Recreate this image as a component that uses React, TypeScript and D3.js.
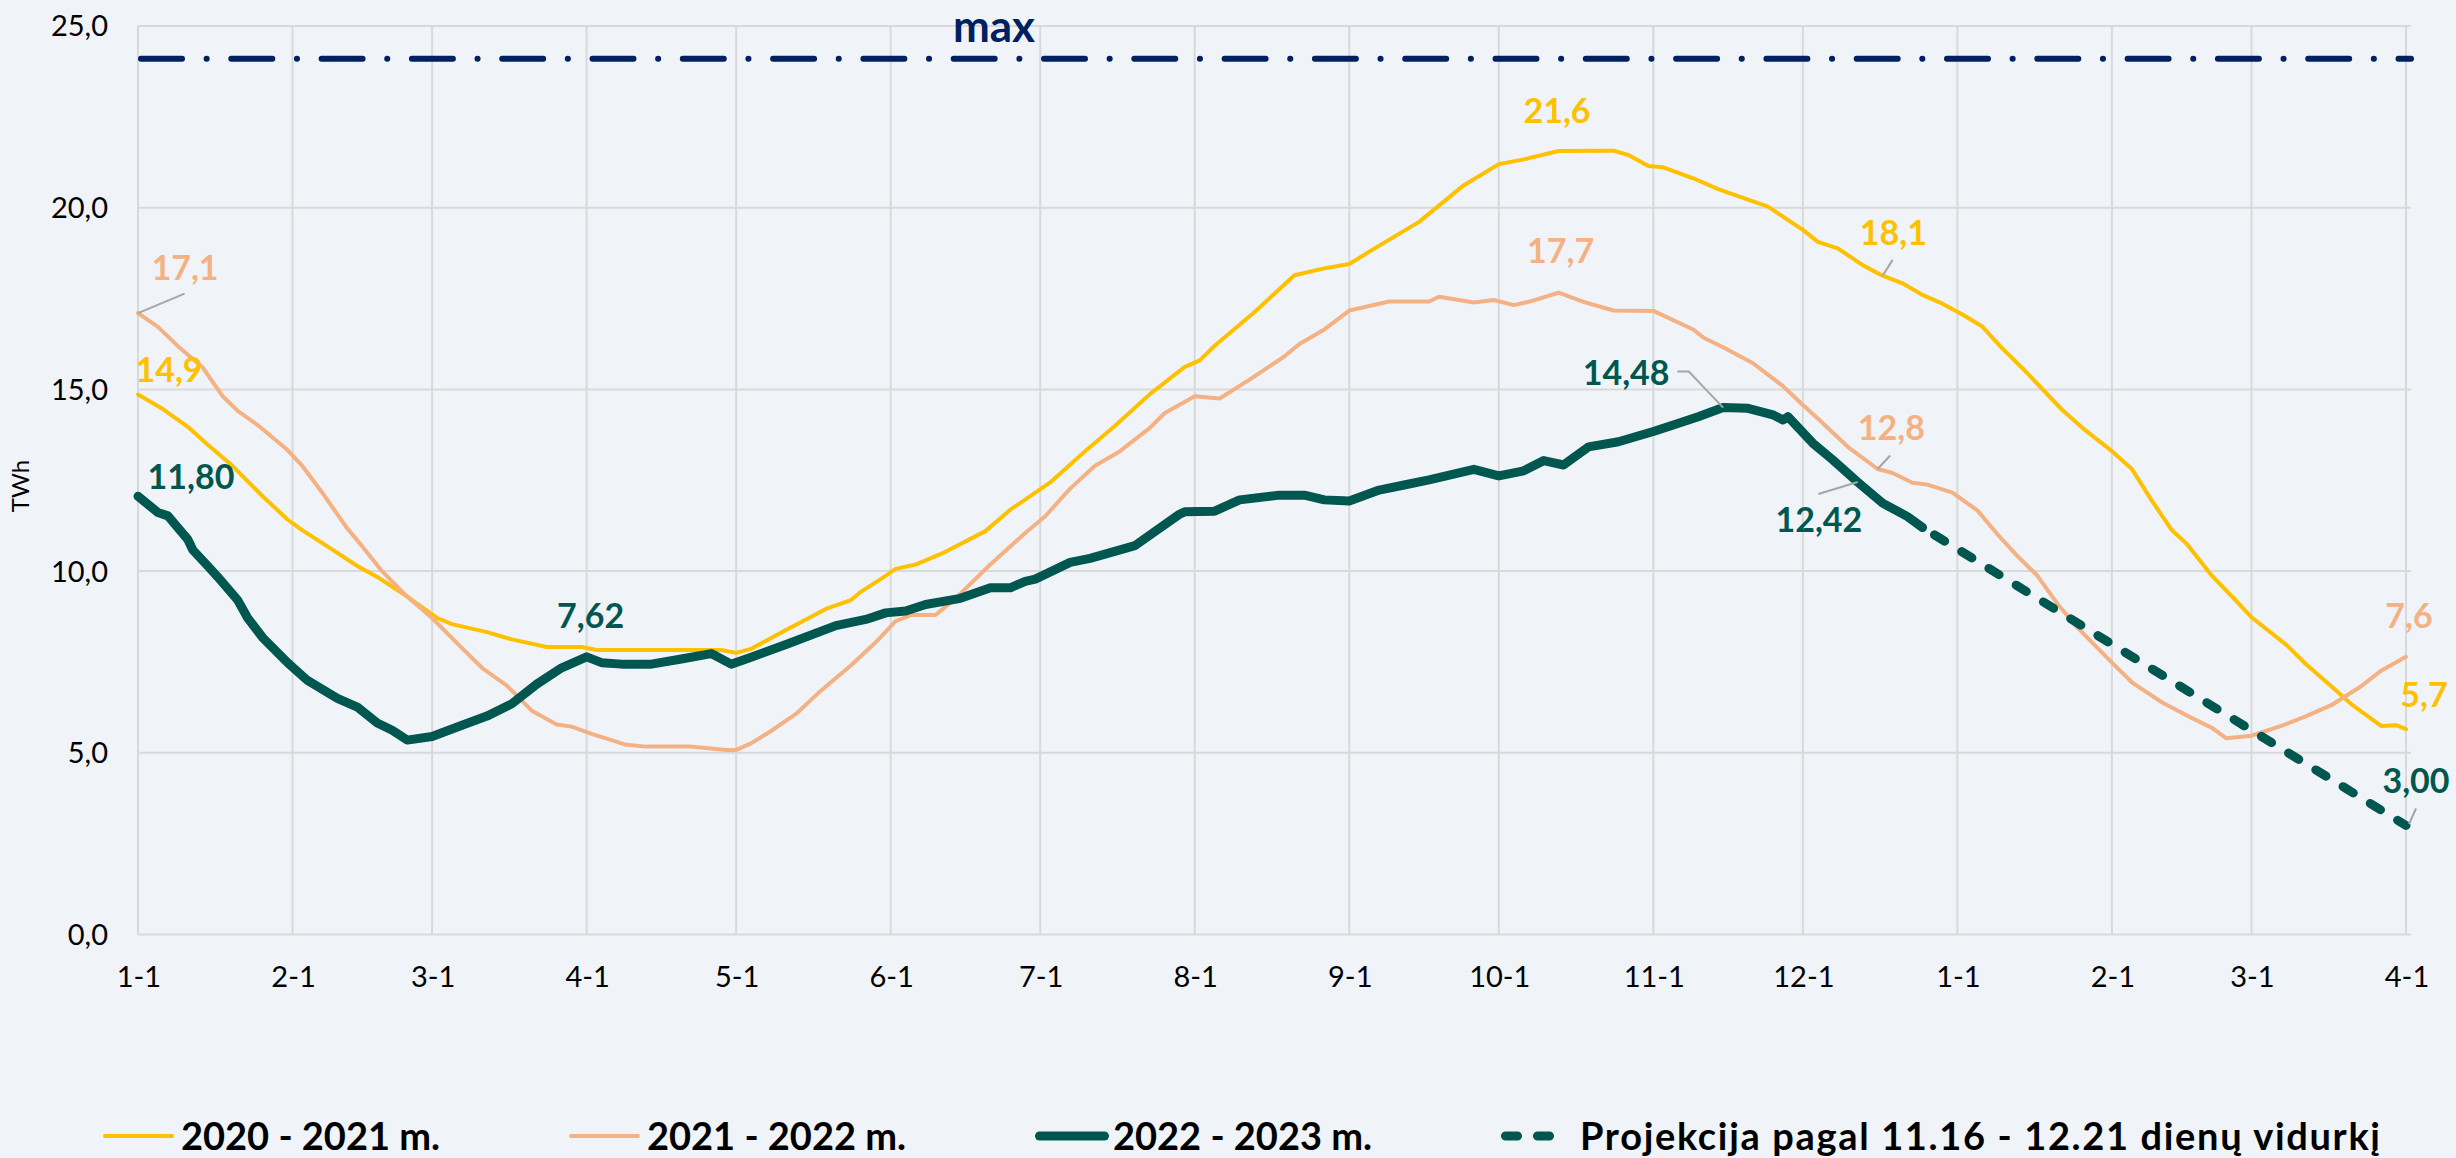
import React from "react";
import * as d3 from "d3";

// ---- Data (day offset from 1 Jan of the first year, TWh) ----
const s2020Days = [0, 5, 10, 14, 19, 25, 30, 33, 38, 44, 48, 54, 60, 63, 70, 75, 82, 89, 92, 117, 120, 123, 130, 138, 143, 145, 149, 152, 156, 162, 170, 175, 183, 190, 196, 203, 210, 213, 216, 224, 232, 238, 243, 247, 257, 266, 273, 278, 285, 296, 299, 303, 306, 312, 317, 327, 334, 337, 341, 346, 350, 354, 358, 362, 366, 370, 374, 378, 386, 390, 396, 400, 404, 408, 411, 416, 421, 424, 431, 435, 440, 444, 450, 453, 455];
const s2020Vals = [14.86, 14.46, 13.97, 13.48, 12.89, 12.06, 11.42, 11.12, 10.68, 10.14, 9.84, 9.3, 8.71, 8.54, 8.32, 8.12, 7.91, 7.91, 7.83, 7.83, 7.75, 7.86, 8.38, 8.96, 9.2, 9.43, 9.78, 10.06, 10.18, 10.53, 11.1, 11.69, 12.44, 13.3, 14.0, 14.87, 15.62, 15.8, 16.2, 17.13, 18.14, 18.33, 18.45, 18.79, 19.61, 20.62, 21.2, 21.33, 21.56, 21.57, 21.45, 21.15, 21.11, 20.81, 20.51, 20.03, 19.39, 19.06, 18.88, 18.42, 18.13, 17.92, 17.6, 17.36, 17.06, 16.73, 16.13, 15.59, 14.44, 13.95, 13.3, 12.81, 11.94, 11.13, 10.75, 9.88, 9.17, 8.73, 7.97, 7.43, 6.83, 6.34, 5.74, 5.76, 5.65];

const s2021Days = [0, 4, 8, 13, 17, 20, 24, 30, 33, 37, 42, 45, 49, 54, 59, 64, 69, 74, 79, 84, 87, 91, 98, 102, 111, 114, 118, 120, 123, 127, 132, 137, 143, 148, 152, 155, 160, 164, 171, 178, 182, 187, 192, 197, 203, 206, 212, 217, 223, 230, 233, 238, 243, 251, 259, 261, 268, 272, 276, 279, 285, 290, 296, 304, 312, 314, 318, 324, 330, 334, 337, 343, 349, 352, 356, 359, 364, 369, 373, 377, 381, 385, 389, 396, 400, 406, 412, 416, 419, 424, 430, 435, 440, 446, 450, 455];
const s2021Vals = [17.1, 16.72, 16.19, 15.6, 14.81, 14.41, 14.02, 13.33, 12.89, 12.15, 11.17, 10.68, 9.99, 9.3, 8.71, 8.02, 7.34, 6.85, 6.16, 5.78, 5.72, 5.52, 5.22, 5.17, 5.17, 5.13, 5.08, 5.08, 5.26, 5.6, 6.07, 6.71, 7.4, 8.04, 8.62, 8.79, 8.79, 9.25, 10.18, 11.05, 11.51, 12.27, 12.9, 13.3, 13.94, 14.35, 14.81, 14.75, 15.27, 15.91, 16.25, 16.65, 17.17, 17.42, 17.42, 17.55, 17.39, 17.46, 17.32, 17.41, 17.66, 17.41, 17.17, 17.16, 16.65, 16.43, 16.16, 15.72, 15.09, 14.57, 14.2, 13.42, 12.81, 12.7, 12.43, 12.38, 12.16, 11.67, 11.02, 10.42, 9.88, 9.11, 8.46, 7.48, 6.94, 6.39, 5.96, 5.69, 5.4, 5.47, 5.74, 6.01, 6.31, 6.83, 7.26, 7.64];

const s2022Days = [0, 4, 6, 10, 11, 14, 16, 20, 22, 25, 30, 34, 40, 44, 48, 51, 54, 59, 65, 70, 75, 80, 85, 90, 93, 97, 103, 109, 115, 119, 123, 130, 140, 146, 150, 154, 158, 165, 171, 175, 178, 180, 187, 191, 200, 209, 210, 216, 221, 229, 234, 238, 243, 249, 254, 259, 268, 273, 278, 282, 286, 291, 297, 304, 308, 313, 318, 323, 328, 330, 331, 336, 340, 345, 350, 355, 358];
const s2022Vals = [12.06, 11.61, 11.52, 10.87, 10.58, 10.14, 9.84, 9.2, 8.71, 8.17, 7.48, 6.99, 6.5, 6.26, 5.82, 5.62, 5.35, 5.45, 5.76, 6.01, 6.35, 6.89, 7.34, 7.64, 7.48, 7.44, 7.44, 7.58, 7.73, 7.44, 7.63, 7.98, 8.5, 8.67, 8.85, 8.9, 9.08, 9.25, 9.54, 9.54, 9.72, 9.78, 10.24, 10.35, 10.7, 11.57, 11.63, 11.65, 11.96, 12.09, 12.09, 11.96, 11.93, 12.23, 12.37, 12.51, 12.8, 12.62, 12.76, 13.04, 12.92, 13.42, 13.56, 13.84, 14.02, 14.25, 14.5, 14.48, 14.3, 14.16, 14.25, 13.52, 13.06, 12.45, 11.87, 11.5, 11.2];

const projDays = [358, 455];
const projVals = [11.2, 3.0];

const maxValue = 24.1;
const yTicks = [0, 5, 10, 15, 20, 25];

const legendLabels = ["2020 - 2021 m.", "2021 - 2022 m.", "2022 - 2023 m.", "Projekcija pagal 11.16 - 12.21 dienų vidurkį"];

// ---- Styles / layout ----
const W = 2456, H = 1158;
const BG = "#F0F4F8";
const YELLOW = "#FFC000", PINK = "#F4B183", GREEN = "#00574F", NAVY = "#002060";
const GRID = "#D9D9D9";
const FONT = "Lato, 'Open Sans', sans-serif";
const PL = 138, PR = 2411, PT = 26, PB = 934.5;
const DAYS = 456;

const START = Date.UTC(2022, 0, 1);
const dayToDate = (d: number) => new Date(START + d * 86400000);

const x = d3.scaleUtc().domain([dayToDate(0), dayToDate(DAYS)]).range([PL, PR]);
const y = d3.scaleLinear().domain([0, 25]).range([PB, PT]);

const zip = (days: number[], vals: number[]) => days.map((d, i) => [d, vals[i]] as [number, number]);
const lineGen = d3.line<[number, number]>().x((p) => x(dayToDate(p[0]))).y((p) => y(p[1]));

const series = {
  y2020: zip(s2020Days, s2020Vals),
  y2021: zip(s2021Days, s2021Vals),
  y2022: zip(s2022Days, s2022Vals),
  proj: zip(projDays, projVals),
};

const nearest = (pts: [number, number][], day: number) => {
  let best = pts[0];
  for (const p of pts) if (Math.abs(p[0] - day) < Math.abs(best[0] - day)) best = p;
  return best;
};

type Ann = { text: string; s: keyof typeof series; day: number; color: string; dx: number; dy: number; leader?: [number, number][] };
const annotations: Ann[] = [
  { text: "17,1", s: "y2021", day: 0, color: PINK, dx: 47, dy: -33, leader: [[0, 0], [46.6, -19.5]] },
  { text: "14,9", s: "y2020", day: 0, color: YELLOW, dx: 31, dy: -12.5 },
  { text: "11,80", s: "y2022", day: 0, color: GREEN, dx: 53, dy: -7 },
  { text: "7,62", s: "y2022", day: 90, color: GREEN, dx: 4, dy: -29 },
  { text: "21,6", s: "y2020", day: 290, color: YELLOW, dx: -1.6, dy: -27.6 },
  { text: "17,7", s: "y2021", day: 285, color: PINK, dx: 2, dy: -29.4 },
  { text: "14,48", s: "y2022", day: 318, color: GREEN, dx: -97, dy: -22.6, leader: [[0, 0], [-34.3, -36], [-45.7, -36]] },
  { text: "12,42", s: "y2022", day: 345, color: GREEN, dx: -38.8, dy: 50, leader: [[0, 0], [-39.3, 12]] },
  { text: "18,1", s: "y2020", day: 350, color: YELLOW, dx: 10.7, dy: -30.7, leader: [[0, 0], [10, -15.8]] },
  { text: "12,8", s: "y2021", day: 349, color: PINK, dx: 13.7, dy: -28.6, leader: [[0, 0], [12.5, -13.5]] },
  { text: "7,6", s: "y2021", day: 455, color: PINK, dx: 3, dy: -28.6 },
  { text: "5,7", s: "y2020", day: 455, color: YELLOW, dx: 18, dy: -22 },
  { text: "3,00", s: "proj", day: 455, color: GREEN, dx: 10, dy: -32.8, leader: [[3, -1.5], [10, -17]] },
];

const legendLayout = [
  { x1: 103, x2: 174, tx: 181, color: YELLOW, w: 4, dash: undefined as string | undefined, len: undefined as number | undefined },
  { x1: 569, x2: 640, tx: 647, color: PINK, w: 4, dash: undefined, len: undefined },
  { x1: 1035, x2: 1109, tx: 1113, color: GREEN, w: 9, dash: undefined, len: undefined },
  { x1: 1501, x2: 1573, tx: 1580, color: GREEN, w: 9, dash: "12 20", len: 800 },
];

export default function App() {
  const months = d3.utcMonth.range(dayToDate(0), dayToDate(DAYS));
  const fmt = (v: number) => v.toFixed(1).replace(".", ",");
  return (
    <svg width={W} height={H} style={{ position: "absolute", left: 0, top: 0, background: BG }} fontFamily={FONT}>
      <rect x={0} y={0} width={W} height={H} fill={BG} />
      {/* gridlines */}
      {yTicks.map((t) => (
        <line key={"h" + t} x1={PL} x2={PR} y1={y(t)} y2={y(t)} stroke={GRID} strokeWidth={2} />
      ))}
      {months.map((m, i) => (
        <line key={"v" + i} x1={x(m)} x2={x(m)} y1={PT} y2={PB} stroke={GRID} strokeWidth={2} />
      ))}
      {/* y tick labels */}
      {yTicks.map((t) => (
        <text key={"yt" + t} x={108} y={y(t)} dy="0.36em" textAnchor="end" fontSize={29} fill="#000">
          {fmt(t)}
        </text>
      ))}
      {/* x tick labels */}
      {months.map((m, i) => (
        <text key={"xt" + i} x={x(m) + 1} y={987} textAnchor="middle" fontSize={29} fill="#000">
          {`${m.getUTCMonth() + 1}-${m.getUTCDate()}`}
        </text>
      ))}
      <text transform={`translate(19,486) rotate(-90)`} textAnchor="middle" dominantBaseline="central" fontSize={24} fill="#000">
        TWh
      </text>
      {/* max line */}
      <line x1={PL + 3} x2={PR} y1={y(maxValue)} y2={y(maxValue)} stroke={NAVY} strokeWidth={6} strokeLinecap="round" strokeDasharray="41 24.6 0.1 24.6" />
      <text x={994} y={42} textAnchor="middle" fontSize={44} fontWeight={700} fill={NAVY}>max</text>
      {/* series */}
      <path d={lineGen(series.y2020) || ""} fill="none" stroke={YELLOW} strokeWidth={4} strokeLinejoin="round" strokeLinecap="round" />
      <path d={lineGen(series.y2021) || ""} fill="none" stroke={PINK} strokeWidth={4} strokeLinejoin="round" strokeLinecap="round" />
      <path d={lineGen(series.proj) || ""} fill="none" stroke={GREEN} strokeWidth={9} strokeLinecap="round" strokeDasharray="12 20" strokeDashoffset={-14} />
      <path d={lineGen(series.y2022) || ""} fill="none" stroke={GREEN} strokeWidth={9} strokeLinejoin="round" strokeLinecap="round" />
      {/* annotations */}
      {annotations.map((a, i) => {
        const p = nearest(series[a.s], a.day);
        const px = x(dayToDate(p[0]));
        const py = y(p[1]);
        return (
          <g key={"a" + i}>
            {a.leader && (
              <polyline points={a.leader.map((q) => `${px + q[0]},${py + q[1]}`).join(" ")} fill="none" stroke="#A6A6A6" strokeWidth={2} />
            )}
            <text x={px + a.dx} y={py + a.dy} textAnchor="middle" fontSize={34} fontWeight={700} fill={a.color}>
              {a.text}
            </text>
          </g>
        );
      })}
      {/* legend */}
      {legendLayout.map((l, i) => (
        <g key={"lg" + i}>
          <line x1={l.x1 + l.w / 2} x2={l.x2 - l.w / 2} y1={1136} y2={1136} stroke={l.color} strokeWidth={l.w} strokeLinecap="round" strokeDasharray={l.dash} />
          <text x={l.tx} y={1150} fontSize={38} fontWeight={700} fill="#000" textLength={l.len} lengthAdjust={l.len ? "spacing" : undefined}>
            {legendLabels[i]}
          </text>
        </g>
      ))}
    </svg>
  );
}
